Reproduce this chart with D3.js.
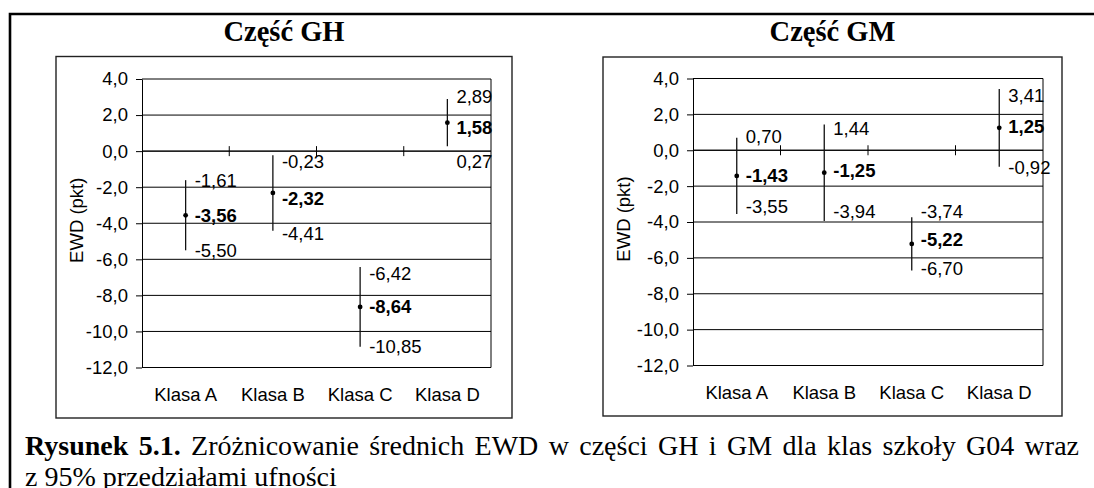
<!DOCTYPE html>
<html>
<head>
<meta charset="utf-8">
<script src="https://cdn.jsdelivr.net/npm/d3@7"></script>
<style>
  body { margin: 0; background: #fff; }
</style>
</head>
<body>
<svg id="chart" width="1094" height="488"></svg>
<script>
// Data
const categories = ["Klasa A", "Klasa B", "Klasa C", "Klasa D"];
const yTicks = [4, 2, 0, -2, -4, -6, -8, -10, -12];

// Część GH
const ghMean  = [-3.56, -2.32, -8.64, 1.58];
const ghLower = [-5.50, -4.41, -10.85, 0.27];
const ghUpper = [-1.61, -0.23, -6.42, 2.89];

// Część GM
const gmMean  = [-1.43, -1.25, -5.22, 1.25];
const gmLower = [-3.55, -3.94, -6.70, -0.92];
const gmUpper = [0.70, 1.44, -3.74, 3.41];

const SANS = "'Liberation Sans', Arial, sans-serif";
const SERIF = "'Liberation Serif', 'Times New Roman', serif";
const FS = "18.5px";

// Polish number format: comma decimal, plain hyphen minus
const pl = d3.formatLocale({ decimal: ",", thousands: " ", grouping: [3], currency: ["", " zł"], minus: "-" });
const fmtTick = pl.format(".1f");
const fmtVal = pl.format(".2f");

const svg = d3.select("#chart");

// outer frame (continues past the right and bottom edge of the picture)
svg.append("path")
    .attr("d", "M10,500V14H1100")
    .attr("fill", "none")
    .attr("stroke", "#000")
    .attr("stroke-width", 2.6);

// label nudges (px) – the labels in the original were placed by hand
const panels = [
  {
    title: "Część GH",
    box: { x0: 56, y0: 56.5, x1: 512, y1: 418 },
    plot: { left: 142, top: 79, right: 491, bottom: 367.5 },
    mean: ghMean, lower: ghLower, upper: ghUpper,
    nudge: { upper: [0, 6, 7, -2], mean: [0, 6, 0, 5], lower: [0, 3, 0, 15] }
  },
  {
    title: "Część GM",
    box: { x0: 603, y0: 57, x1: 1062, y1: 416 },
    plot: { left: 693, top: 78.5, right: 1043, bottom: 365.5 },
    mean: gmMean, lower: gmLower, upper: gmUpper,
    nudge: { upper: [-1, 4, -6, 6], mean: [0, -2, -4, -1], lower: [-7, -9, -2, 1] }
  }
];

panels.forEach(drawPanel);

function drawPanel(p) {
  const g = svg.append("g");

  // chart box
  g.append("rect")
      .attr("x", p.box.x0).attr("y", p.box.y0)
      .attr("width", p.box.x1 - p.box.x0)
      .attr("height", p.box.y1 - p.box.y0)
      .attr("fill", "none")
      .attr("stroke", "#222")
      .attr("stroke-width", 1.4);

  // title
  g.append("text")
      .attr("x", (p.box.x0 + p.box.x1) / 2)
      .attr("y", 41)
      .attr("text-anchor", "middle")
      .style("font-family", SERIF)
      .style("font-size", "28.5px")
      .style("font-weight", "bold")
      .text(p.title);

  const x = d3.scaleBand()
      .domain(categories)
      .range([p.plot.left, p.plot.right]);

  const y = d3.scaleLinear()
      .domain([-12, 4])
      .range([p.plot.bottom, p.plot.top]);

  // gridlines
  g.selectAll(".grid")
      .data(yTicks)
      .enter().append("line")
      .attr("x1", p.plot.left).attr("x2", p.plot.right)
      .attr("y1", d => y(d)).attr("y2", d => y(d))
      .attr("stroke", "#000")
      .attr("stroke-width", 1);

  // right border of plot area
  g.append("line")
      .attr("x1", p.plot.right).attr("x2", p.plot.right)
      .attr("y1", p.plot.top).attr("y2", p.plot.bottom)
      .attr("stroke", "#000");

  // y axis
  const yAxis = g.append("g")
      .attr("transform", `translate(${p.plot.left},0)`)
      .call(d3.axisLeft(y).tickValues(yTicks).tickFormat(fmtTick).tickSize(6).tickSizeOuter(0).tickPadding(8));
  yAxis.attr("font-family", SANS).attr("font-size", null);
  yAxis.select(".domain").attr("stroke", "#000");
  yAxis.selectAll("text").style("font-size", FS).style("fill", "#000");

  // x axis line at 0 with crossing ticks between the classes
  g.append("line")
      .attr("x1", p.plot.left).attr("x2", p.plot.right)
      .attr("y1", y(0)).attr("y2", y(0))
      .attr("stroke", "#000");
  g.selectAll(".xtick")
      .data(categories.slice(1))
      .enter().append("line")
      .attr("x1", d => x(d)).attr("x2", d => x(d))
      .attr("y1", y(0) - 5).attr("y2", y(0) + 5)
      .attr("stroke", "#000");

  // category labels under the plot
  const xAxis = g.append("g")
      .attr("transform", `translate(0,${p.plot.bottom})`)
      .call(d3.axisBottom(x).tickSize(0).tickPadding(20));
  xAxis.attr("font-family", SANS).attr("font-size", null);
  xAxis.select(".domain").remove();
  xAxis.selectAll("text").style("font-size", FS).style("fill", "#000");

  // y axis title
  g.append("text")
      .attr("transform", `translate(${p.box.x0 + 27},${(p.plot.top + p.plot.bottom) / 2 - 3}) rotate(-90)`)
      .attr("text-anchor", "middle")
      .style("font-family", SANS)
      .style("font-size", FS)
      .text("EWD (pkt)");

  const cx = d => x(d) + x.bandwidth() / 2;

  // confidence intervals
  g.selectAll(".ci")
      .data(categories)
      .enter().append("line")
      .attr("x1", cx).attr("x2", cx)
      .attr("y1", (d, i) => y(p.upper[i]))
      .attr("y2", (d, i) => y(p.lower[i]))
      .attr("stroke", "#111")
      .attr("stroke-width", 1.3);

  // means
  g.selectAll(".dot")
      .data(categories)
      .enter().append("circle")
      .attr("cx", cx)
      .attr("cy", (d, i) => y(p.mean[i]))
      .attr("r", 2.4)
      .attr("fill", "#000");

  // value labels
  const series = [
    { key: "upper", vals: p.upper, bold: false },
    { key: "mean", vals: p.mean, bold: true },
    { key: "lower", vals: p.lower, bold: false }
  ];
  series.forEach(s => {
    g.selectAll(".lbl-" + s.key)
        .data(categories)
        .enter().append("text")
        .attr("x", d => cx(d) + 9)
        .attr("y", (d, i) => y(s.vals[i]) + p.nudge[s.key][i])
        .attr("dy", "0.35em")
        .style("font-family", SANS)
        .style("font-size", FS)
        .style("font-weight", s.bold ? "bold" : "normal")
        .text((d, i) => fmtVal(s.vals[i]));
  });
}

// caption (first line justified like in the document)
const cap1 = svg.append("text")
    .attr("x", 25)
    .attr("y", 455)
    .style("font-family", SERIF)
    .style("font-size", "28px");
cap1.append("tspan").style("font-weight", "bold").text("Rysunek 5.1.");
cap1.append("tspan").text(" Zróżnicowanie średnich EWD w części GH i GM dla klas szkoły G04 wraz");

const natural = cap1.node().getComputedTextLength();
const spaces = (cap1.text().match(/ /g) || []).length;
const target = 1079 - 25;
if (spaces > 0) {
  cap1.style("word-spacing", ((target - natural) / spaces) + "px");
}

svg.append("text")
    .attr("x", 25)
    .attr("y", 486)
    .style("font-family", SERIF)
    .style("font-size", "28px")
    .text("z 95% przedziałami ufności");
</script>
</body>
</html>
